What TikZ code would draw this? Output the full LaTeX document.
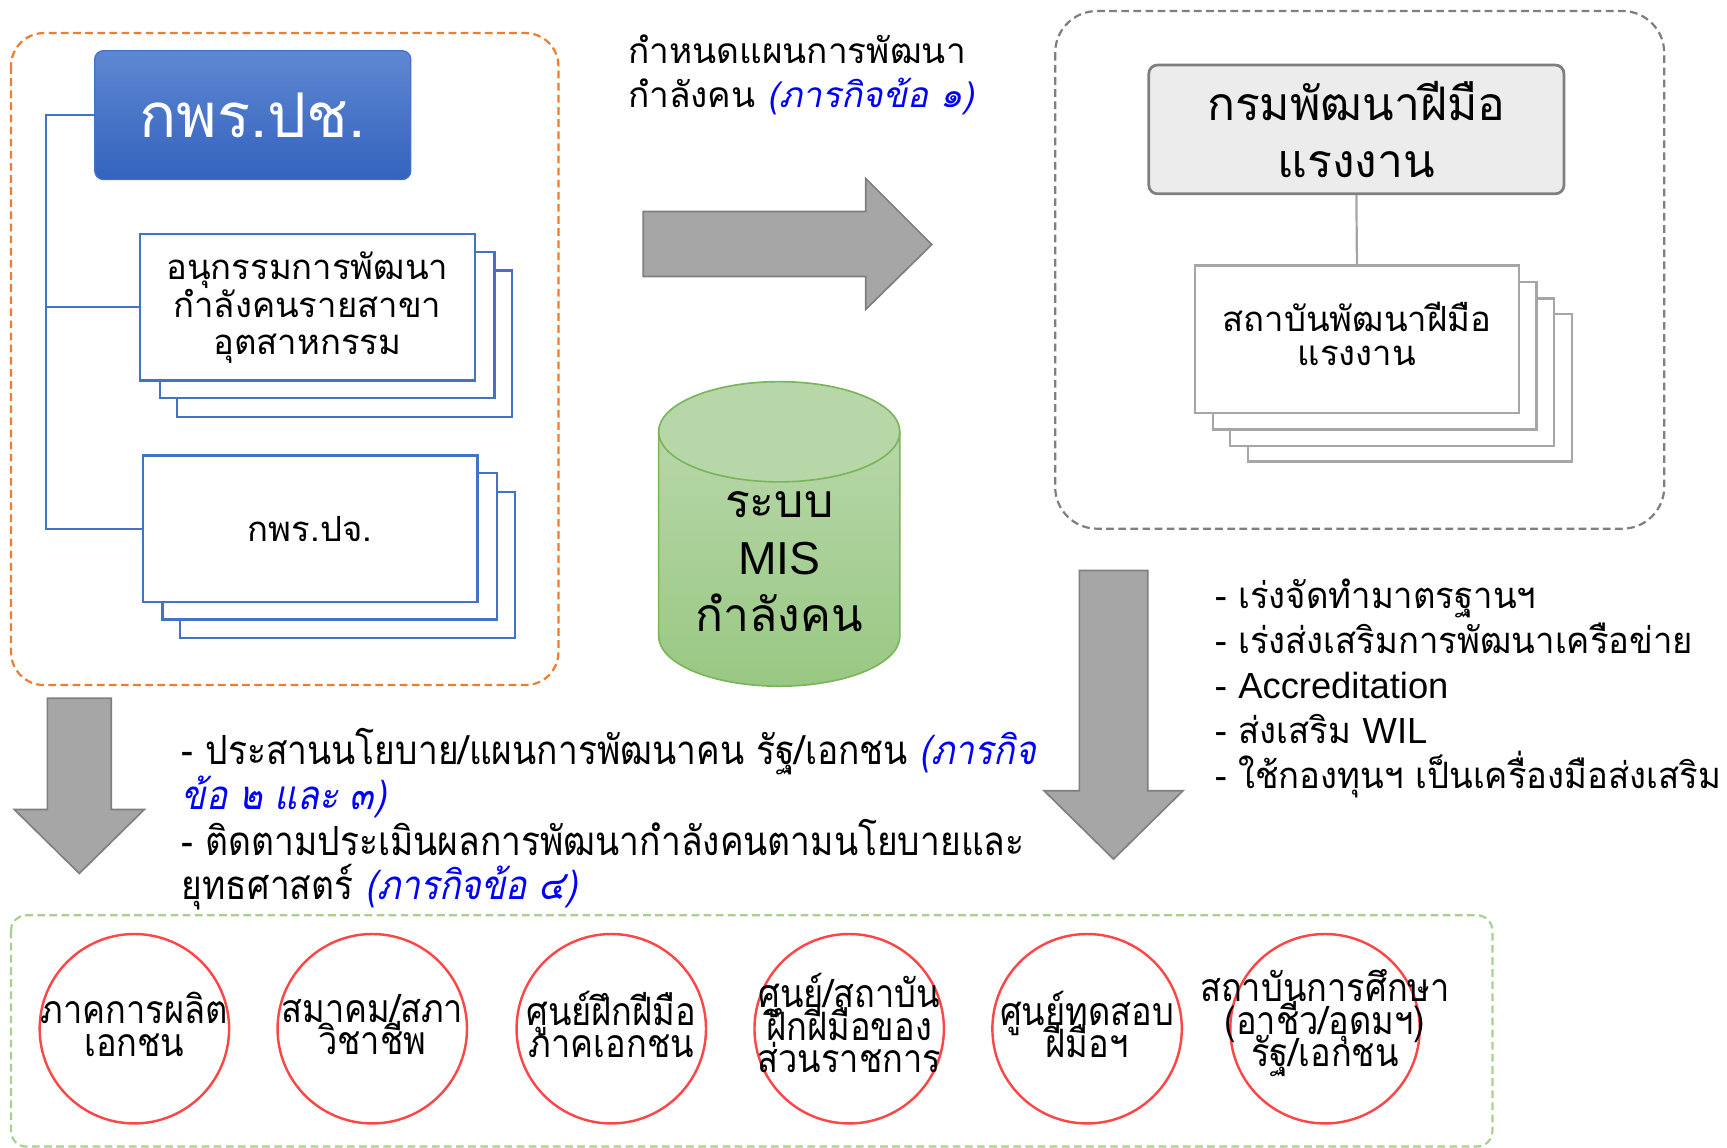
\documentclass[tikz,border=0pt]{standalone}
\usepackage{fontspec}
\setmainfont[Script=Thai]{Loma}
\newfontfamily\thit[Script=Thai,FakeSlant=0.2]{Loma}
\newfontfamily\thcn[Script=Thai,FakeStretch=0.88]{Loma}
\newfontfamily\thcnit[Script=Thai,FakeStretch=0.88,FakeSlant=0.2]{Loma}
\newfontfamily\thbl[Script=Thai,FakeStretch=0.955]{Loma}
\newfontfamily\lat{Liberation Sans}
\newcommand\tightlines{\lineskiplimit=-60pt\lineskip=0pt\relax}
\definecolor{bluel}{HTML}{4472C4}
\definecolor{orng}{HTML}{ED7D31}
\definecolor{grayd}{HTML}{7F7F7F}
\definecolor{grayl}{HTML}{A6A6A6}
\definecolor{grayf}{HTML}{ECECEC}
\definecolor{grnd}{HTML}{A9D18E}
\definecolor{redc}{HTML}{FF4646}
\definecolor{hdrtop}{HTML}{5F87D2}
\definecolor{hdrbot}{HTML}{3363BE}
\definecolor{cyltop}{HTML}{B7D7A8}
\definecolor{cylbot}{HTML}{99C883}
\definecolor{cyldraw}{HTML}{7AB55C}
\definecolor{txtblue}{HTML}{0000FF}
\tikzset{
  bluebox/.style={draw=bluel,line width=2pt,fill=white,minimum width=304pt,minimum height=133pt,inner sep=0pt},
  graybox/.style={draw=grayl,line width=2pt,fill=white,minimum width=294pt,minimum height=134pt,inner sep=0pt},
  bigarrow/.style={fill=grayl,draw=grayd,line width=1.5pt},
  dashbox/.style={line width=2pt,dash pattern=on 7pt off 4pt,rounded corners=30pt},
  ring/.style={circle,draw=redc,line width=2.2pt,minimum size=172pt,inner sep=0pt},
  ringtxt/.style={align=center,font={\thcn\fontsize{35.5}{29.5}\selectfont\tightlines},inner sep=0pt},
}
\begin{document}
\begin{tikzpicture}[x=1pt,y=-1pt]
\path[use as bounding box,fill=white] (0,0) rectangle (1568,1042);

% ---------- left orange group ----------
\draw[dashbox,draw=orng] (10,30) rectangle (507,622);
\node[draw=bluel,line width=1.2pt,rounded corners=8pt,minimum width=287pt,minimum height=117pt,
      top color=hdrtop,bottom color=hdrbot,text=white,font=\fontsize{56}{60}\selectfont] (kps) at (229.5,104.5) {กพร.ปช.};

\node[bluebox] (s1c) at (313,312) {};
\node[bluebox] (s1b) at (297,295) {};
\node[bluebox,align=center,font=\fontsize{31.5}{33}\selectfont] (s1) at (279,279) {อนุกรรมการพัฒนา\\กำลังคนรายสาขา\\อุตสาหกรรม};

\node[bluebox] (s2c) at (315.5,513) {};
\node[bluebox] (s2b) at (299.5,496) {};
\node[bluebox,font=\fontsize{31.5}{33}\selectfont] (s2) at (281.5,480) {กพร.ปจ.};

\coordinate (bx) at (42,0);
\draw[bluel,line width=2pt] (kps.west) -| (bx |- s2.west) -- (s2.west);
\draw[bluel,line width=2pt] (s1.west) -- (bx |- s1.west);

% ---------- center ----------
\node[anchor=west,align=left,inner sep=0pt,font=\fontsize{32}{40}\selectfont] (plan) at (570,68)
  {กำหนดแผนการพัฒนา\\กำลังคน {\color{txtblue}\thit (ภารกิจข้อ ๑)}};
\draw[bigarrow] (584,192) -- (786,192) -- (786,162) -- (846,222) -- (786,281) -- (786,251) -- (584,251) -- cycle;

\shade[top color=cyltop,bottom color=cylbot] (598,392) -- (598,577.5) arc[start angle=180,end angle=0,x radius=109.5,y radius=45.5] -- (817,392) -- cycle;
\draw[cyldraw,line width=1.5pt] (598,392) -- (598,577.5) arc[start angle=180,end angle=0,x radius=109.5,y radius=45.5] -- (817,392);
\filldraw[fill=cyltop,draw=cyldraw,line width=1.5pt] (707.5,392) ellipse[x radius=109.5,y radius=45.5];
\node[align=center,inner sep=0pt,font=\fontsize{42}{52}\selectfont] (mis) at (707.5,510)
  {ระบบ\\{\lat MIS}\\กำลังคน};

% ---------- right gray group ----------
\draw[dashbox,draw=grayd,rounded corners=38pt] (958,10) rectangle (1511,480);
\node[draw=grayd,line width=2.5pt,fill=grayf,rounded corners=8pt,minimum width=377pt,minimum height=117pt,
      align=center,font=\fontsize{42}{52}\selectfont] (dsd) at (1231.5,117.5) {กรมพัฒนาฝีมือ\\แรงงาน};
\node[graybox] (r1d) at (1280,352) {};
\node[graybox] (r1c) at (1264,338) {};
\node[graybox] (r1b) at (1248,323) {};
\node[graybox,align=center,font=\fontsize{31.5}{33}\selectfont] (r1) at (1232,308) {\raisebox{2pt}{\begin{tabular}{@{}c@{}}สถาบันพัฒนาฝีมือ\\[-2pt]แรงงาน\end{tabular}}};
\draw[grayl,line width=2pt] (dsd.south) -- (r1.north);

\draw[bigarrow] (980,518) -- (1042,518) -- (1042,718) -- (1074,718) -- (1011,780) -- (948,718) -- (980,718) -- cycle;
\node[anchor=west,align=left,inner sep=0pt,font=\thbl\fontsize{33}{41}\selectfont] (bul) at (1103,625)
  {- เร่งจัดทำมาตรฐานฯ\\- เร่งส่งเสริมการพัฒนาเครือข่าย\\- {\lat Accreditation}\\- ส่งเสริม {\lat WIL}\\- ใช้กองทุนฯ เป็นเครื่องมือส่งเสริม};

% ---------- bottom ----------
\draw[bigarrow] (43,634) -- (101,634) -- (101,735) -- (131,735) -- (72,793) -- (13,735) -- (43,735) -- cycle;
\node[anchor=west,align=left,inner sep=0pt,font=\thcn\fontsize{36.5}{40.5}\selectfont] (task) at (165,744)
  {- ประสานนโยบาย/แผนการพัฒนาคน รัฐ/เอกชน {\color{txtblue}\thcnit (ภารกิจ}\\
   {\color{txtblue}\thcnit ข้อ ๒ และ ๓)}\\
   - ติดตามประเมินผลการพัฒนากำลังคนตามนโยบายและ\\
   ยุทธศาสตร์ {\color{txtblue}\thcnit (ภารกิจข้อ ๔)}};

\draw[dashbox,draw=grnd,rounded corners=14pt] (10,831) rectangle (1355,1041);
\node[ring] (c1) at (122,934) {};
\node[ring] (c2) at (338,934) {};
\node[ring] (c3) at (555,934) {};
\node[ring] (c4) at (771,934) {};
\node[ring] (c5) at (987,934) {};
\node[ring] (c6) at (1203,934) {};
\node[ringtxt] (t1) at (122,930) {ภาคการผลิต\\เอกชน};
\node[ringtxt] (t2) at (338,930) {สมาคม/สภา\\วิชาชีพ};
\node[ringtxt] (t3) at (555,930) {ศูนย์ฝึกฝีมือ\\ภาคเอกชน};
\node[ringtxt] (t4) at (771,929) {ศูนย์/สถาบัน\\ฝึกฝีมือของ\\ส่วนราชการ};
\node[ringtxt] (t5) at (987,930) {ศูนย์ทดสอบ\\ฝีมือฯ};
\node[ringtxt] (t6) at (1203,929) {สถาบันการศึกษา\\(อาชีว/อุดมฯ)\\รัฐ/เอกชน};
\end{tikzpicture}
\end{document}
